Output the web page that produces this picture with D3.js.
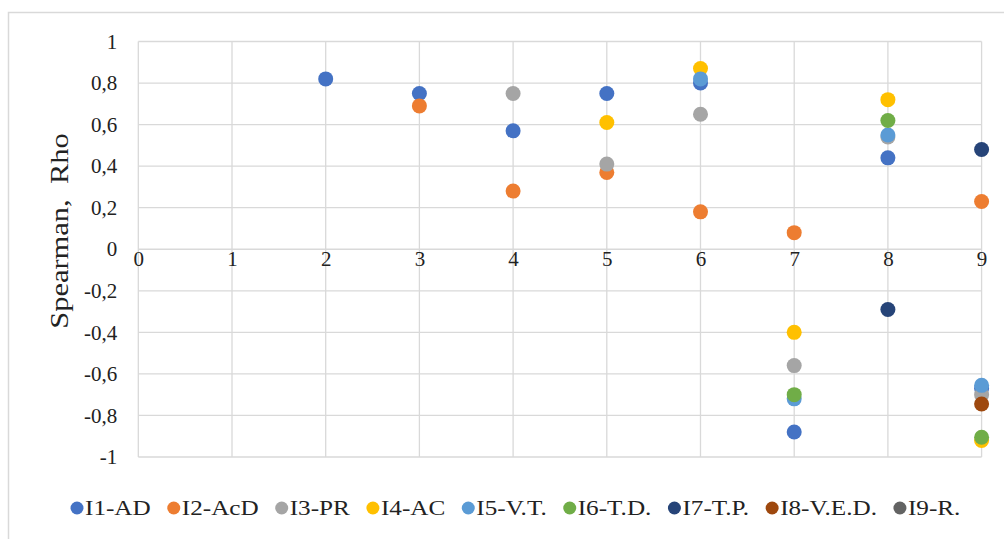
<!DOCTYPE html>
<html><head><meta charset="utf-8">
<script src="https://cdnjs.cloudflare.com/ajax/libs/d3/7.8.5/d3.min.js"></script>
<style>body{margin:0;background:#fff}svg{display:block}</style>
</head><body><svg id="c" width="1004" height="539"></svg>
<script>
const xCategories = [0,1,2,3,4,5,6,7,8,9];
const seriesNames = ["I1-AD","I2-AcD","I3-PR","I4-AC","I5-V.T.","I6-T.D.","I7-T.P.","I8-V.E.D.","I9-R."];
const seriesColors = ["#4472C4","#ED7D31","#A5A5A5","#FFC000","#5B9BD5","#70AD47","#264478","#9E480E","#636363"];
// values at x = 0..9 (null = no point)
const I1 = [null,null,0.82,0.75,0.57,0.75,0.80,-0.88,0.44,-0.67];
const I2 = [null,null,null,0.69,0.28,0.37,0.18,0.08,null,0.23];
const I3 = [null,null,null,null,0.75,0.41,0.65,-0.56,0.54,-0.70];
const I4 = [null,null,null,null,null,0.61,0.87,-0.40,0.72,-0.92];
const I5 = [null,null,null,null,null,null,0.82,-0.72,0.55,-0.655];
const I6 = [null,null,null,null,null,null,null,-0.70,0.62,-0.905];
const I7 = [null,null,null,null,null,null,null,null,-0.29,0.48];
const I8 = [null,null,null,null,null,null,null,null,null,-0.745];
const I9 = [null,null,null,null,null,null,null,null,null,null];
const yTicks = [1,0.8,0.6,0.4,0.2,0,-0.2,-0.4,-0.6,-0.8,-1];
const yLabel = "Spearman,  Rho";
const allSeries = [I1,I2,I3,I4,I5,I6,I7,I8,I9];

const svg = d3.select("#c");
const fmt = v => String(v).replace(".", ",");
const x = d3.scaleLinear().domain([0,9]).range([138.3,981.6]);
const y = d3.scaleLinear().domain([-1,1]).range([457,41.5]);
const font = "'Liberation Serif','Times New Roman',serif";

// outer frame
svg.append("rect").attr("x",8.5).attr("y",12.5).attr("width",1100).attr("height",600)
  .attr("fill","none").attr("stroke","#d9d9d9").attr("stroke-width",1.5);

// horizontal gridlines
svg.append("g").selectAll("line").data(yTicks).join("line")
  .attr("x1",x(0)).attr("x2",x(9)).attr("y1",d=>y(d)).attr("y2",d=>y(d))
  .attr("stroke","#d9d9d9").attr("stroke-width",1.3);
// vertical gridlines
svg.append("g").selectAll("line").data(xCategories).join("line")
  .attr("x1",d=>x(d)).attr("x2",d=>x(d)).attr("y1",y(1)).attr("y2",y(-1))
  .attr("stroke","#d9d9d9").attr("stroke-width",1.3);

// y axis tick labels
const yAxis = d3.axisLeft(y).tickValues(yTicks).tickFormat(fmt).tickSize(0).tickPadding(0);
const gy = svg.append("g").attr("transform",`translate(${x(0)-21},0)`).call(yAxis);
gy.select(".domain").remove();
gy.selectAll("text").attr("font-family",font).attr("font-size",21).attr("fill","#222");

// x axis tick labels (at y=0 line)
const xAxis = d3.axisBottom(x).tickValues(xCategories).tickFormat(d=>d).tickSize(0).tickPadding(0);
const gx = svg.append("g").attr("transform",`translate(0,${y(0)+2})`).call(xAxis);
gx.select(".domain").remove();
gx.selectAll("text").attr("font-family",font).attr("font-size",21).attr("fill","#222");

// y label
svg.append("text").attr("transform",`translate(68,231) rotate(-90) scale(1.22,1)`)
  .attr("text-anchor","middle").attr("font-family",font).attr("font-size",25)
  .attr("fill","#222").style("white-space","pre").text(yLabel);

// points
allSeries.forEach((s,i)=>{
  svg.append("g").selectAll("circle")
    .data(s.map((v,k)=>({x:xCategories[k],v})).filter(d=>d.v!==null))
    .join("circle").attr("cx",d=>x(d.x)).attr("cy",d=>y(d.v)).attr("r",7.5)
    .attr("fill",seriesColors[i]);
});

// legend
const lg = svg.append("g");
const sx = 1.2, gap = 23;
let cx = 0;
seriesNames.forEach((n,i)=>{
  const g = lg.append("g");
  g.append("circle").attr("cx",cx).attr("cy",0).attr("r",6.5).attr("fill",seriesColors[i]);
  const t = g.append("text").attr("transform",`translate(${cx+8},7) scale(${sx},1)`)
    .attr("font-family",font).attr("font-size",21).attr("fill","#222").text(n);
  const w = t.node().getComputedTextLength()*sx;
  cx += 8 + w + gap;
});
lg.attr("transform",`translate(77,508)`);
</script></body></html>
